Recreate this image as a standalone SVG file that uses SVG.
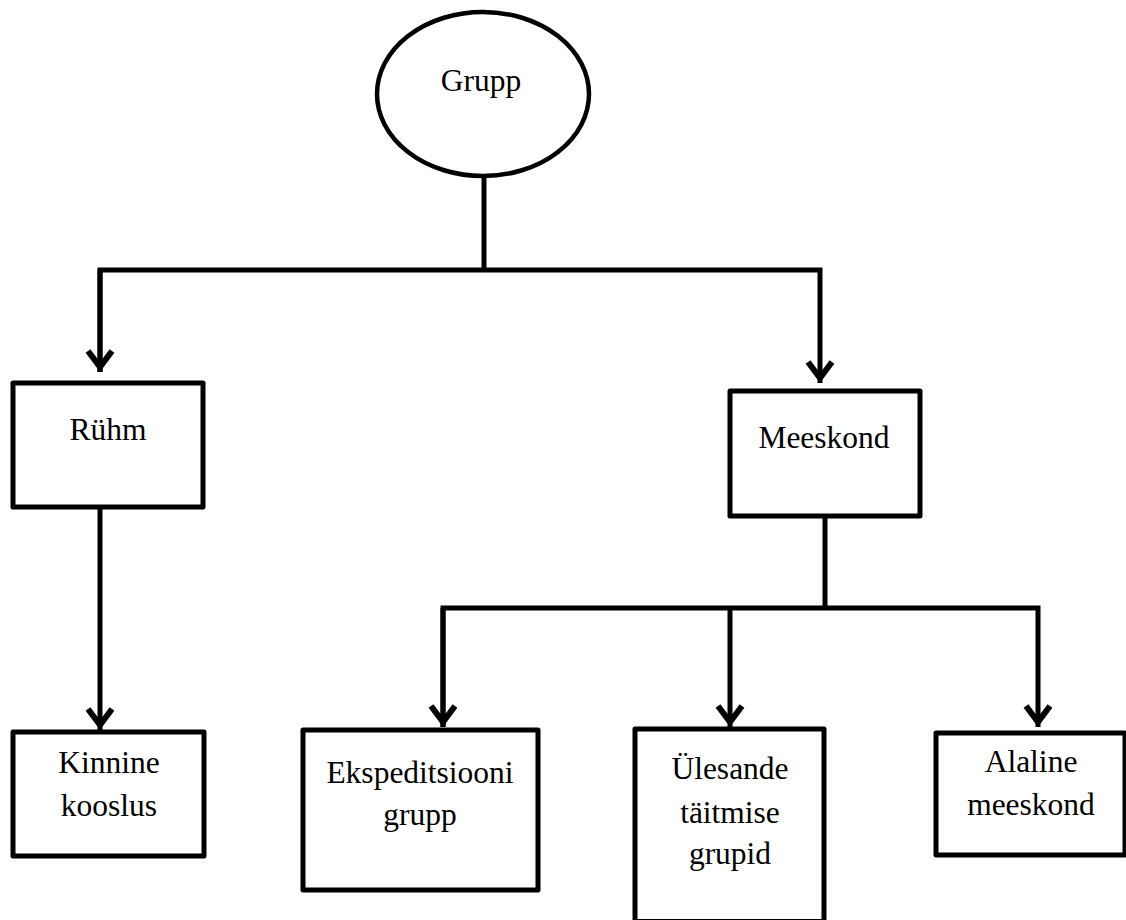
<svg xmlns="http://www.w3.org/2000/svg" width="1126" height="920" viewBox="0 0 1126 920">
  <style>
    .box { fill: #ffffff; stroke: #000000; stroke-width: 5; stroke-linejoin: round; }
    .oval { fill: #ffffff; stroke: #000000; stroke-width: 4.5; }
    .lbl { font-family: "Liberation Serif", "Times New Roman", serif; font-size: 31.5px; fill: #000000; text-anchor: middle; }
    .conn { fill: none; stroke: #000000; stroke-width: 5; stroke-linejoin: miter; }
    .head { fill: none; stroke: #000000; stroke-width: 6; stroke-linejoin: miter; stroke-miterlimit: 10; stroke-linecap: butt; }
  </style>
  <defs>
    <marker id="arrow" markerUnits="userSpaceOnUse" markerWidth="40" markerHeight="40" viewBox="-30 -20 40 40" refX="0" refY="0" orient="auto" overflow="visible">
      <path class="head" d="M-21,-12 L-5,0 L-21,12"/>
    </marker>
  </defs>
  <rect width="1126" height="920" fill="#ffffff"/>

  <g id="connectors">
    <polyline class="conn" points="484,176 484,270"/>
    <polyline class="conn" points="100,372 100,270 820,270 820,383" marker-end="url(#arrow)"/>
    <polyline class="conn" points="100,270 100,372" marker-end="url(#arrow)"/>
    <polyline class="conn" points="100,507 100,730" marker-end="url(#arrow)"/>
    <polyline class="conn" points="825,516 825,608"/>
    <polyline class="conn" points="443,727 443,608 1038,608 1038,727" marker-end="url(#arrow)"/>
    <polyline class="conn" points="443,608 443,727" marker-end="url(#arrow)"/>
    <polyline class="conn" points="730,608 730,727" marker-end="url(#arrow)"/>
  </g>

  <g id="grupp">
    <ellipse class="oval" cx="483" cy="94" rx="106" ry="82"/>
    <text class="lbl" x="481" y="91">Grupp</text>
  </g>

  <g id="ruhm">
    <rect class="box" x="13" y="383" width="190" height="124"/>
    <text class="lbl" x="108" y="440">Rühm</text>
  </g>

  <g id="meeskond">
    <rect class="box" x="730" y="391" width="190" height="125"/>
    <text class="lbl" x="824" y="448">Meeskond</text>
  </g>

  <g id="kinnine-kooslus">
    <rect class="box" x="13" y="732" width="191" height="124"/>
    <text class="lbl" x="109" y="773">Kinnine</text>
    <text class="lbl" x="109" y="816">kooslus</text>
  </g>

  <g id="ekspeditsiooni-grupp">
    <rect class="box" x="303" y="730" width="235" height="160"/>
    <text class="lbl" x="420" y="783">Ekspeditsiooni</text>
    <text class="lbl" x="420" y="825">grupp</text>
  </g>

  <g id="ulesande-taitmise-grupid">
    <rect class="box" x="635" y="729" width="189" height="192.5"/>
    <text class="lbl" x="730" y="779">Ülesande</text>
    <text class="lbl" x="730" y="823">täitmise</text>
    <text class="lbl" x="730" y="864">grupid</text>
  </g>

  <g id="alaline-meeskond">
    <rect class="box" x="936" y="733" width="189" height="122"/>
    <text class="lbl" x="1031" y="772">Alaline</text>
    <text class="lbl" x="1031" y="815">meeskond</text>
  </g>
</svg>
